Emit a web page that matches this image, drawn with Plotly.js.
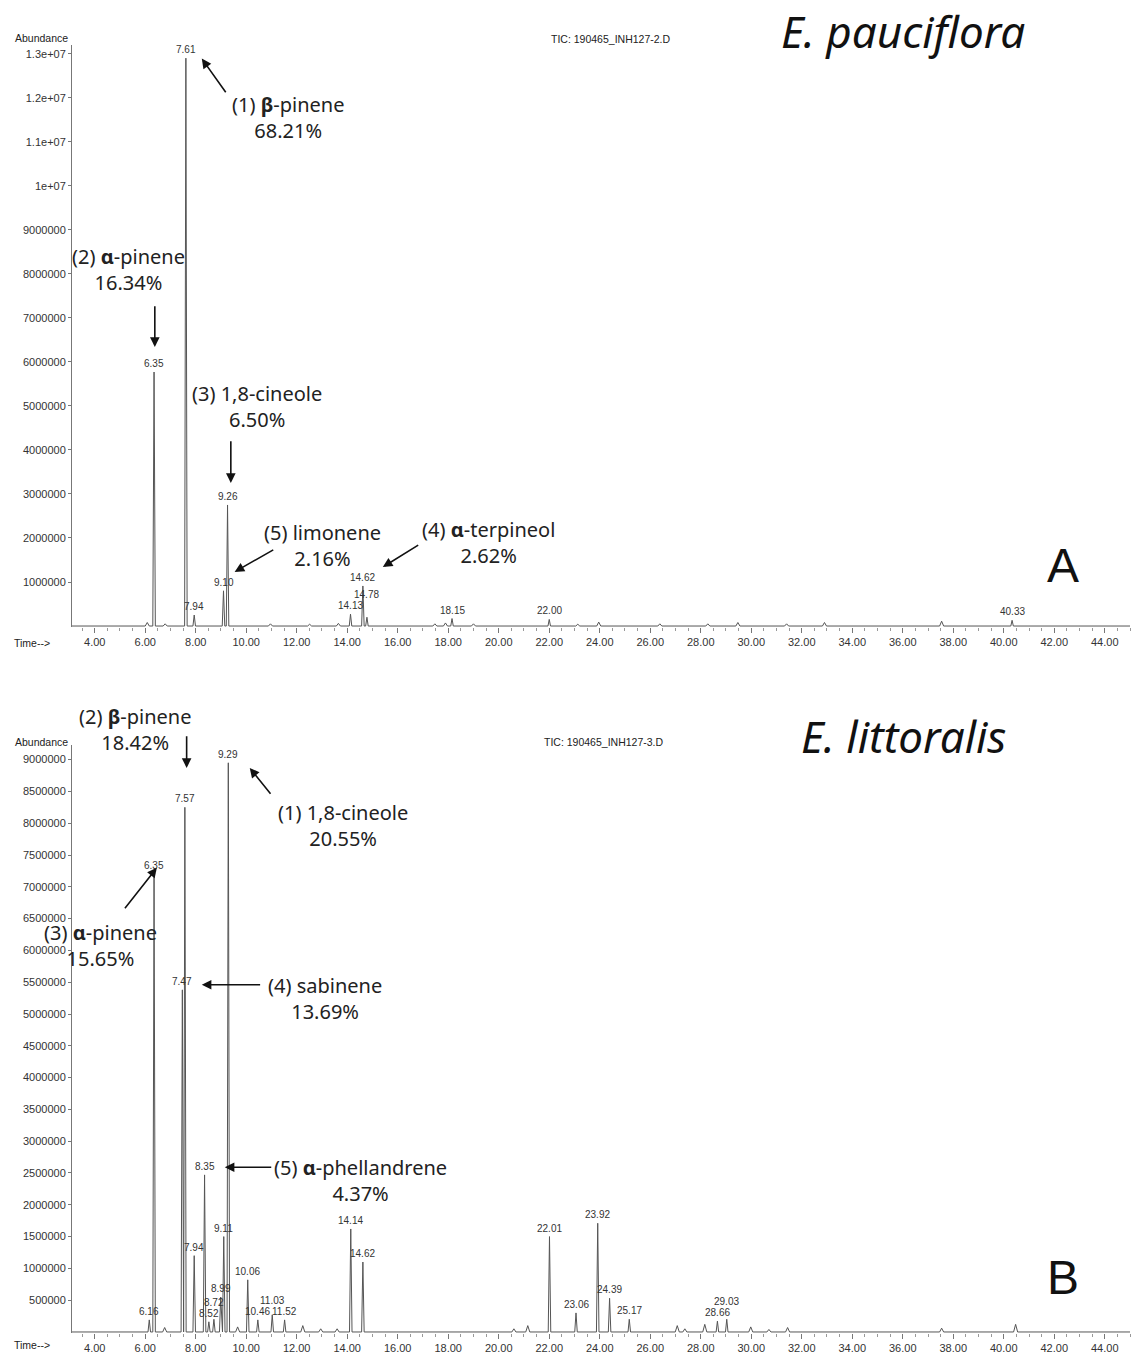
<!DOCTYPE html>
<html><head><meta charset="utf-8">
<script src="https://cdn.plot.ly/plotly-3.0.1.min.js"></script>
<style>html,body{margin:0;padding:0;background:#fff}</style>
</head><body><div id="chart" style="width:1136px;height:1354px"></div>
<script>
// ---- Chromatogram A: E. pauciflora ----
const peakTimesA = [6.35, 7.61, 7.94, 9.10, 9.26, 14.13, 14.62, 14.78, 18.15, 22.00, 40.33];
const peakHeightsA = [5.77e6, 1.29e7, 0.25e6, 0.8e6, 2.75e6, 0.27e6, 0.91e6, 0.2e6, 0.17e6, 0.15e6, 0.13e6];
const minorTimesA = [6.08, 6.79, 10.96, 12.51, 13.65, 17.47, 17.89, 19.0, 23.13, 23.96, 26.38, 28.28, 29.47, 31.4, 32.9, 37.54];
const minorHeightsA = [0.08e6, 0.05e6, 0.05e6, 0.04e6, 0.06e6, 0.05e6, 0.07e6, 0.05e6, 0.04e6, 0.09e6, 0.05e6, 0.05e6, 0.08e6, 0.05e6, 0.08e6, 0.11e6];

// ---- Chromatogram B: E. littoralis ----
const peakTimesB = [6.16, 6.35, 7.47, 7.57, 7.94, 8.35, 8.52, 8.72, 8.99, 9.11, 9.29, 10.06, 10.46, 11.03, 11.52, 14.14, 14.62, 22.01, 23.06, 23.92, 24.39, 25.17, 28.66, 29.03];
const peakHeightsB = [0.19e6, 7.2e6, 5.38e6, 8.25e6, 1.2e6, 2.47e6, 0.16e6, 0.2e6, 0.55e6, 1.5e6, 8.95e6, 0.82e6, 0.19e6, 0.27e6, 0.19e6, 1.62e6, 1.1e6, 1.5e6, 0.3e6, 1.71e6, 0.53e6, 0.2e6, 0.17e6, 0.2e6];
const minorTimesB = [6.77, 9.66, 12.24, 12.95, 13.6, 20.6, 21.15, 27.07, 27.37, 28.16, 29.98, 30.7, 31.44, 37.54, 40.47];
const minorHeightsB = [0.07e6, 0.08e6, 0.1e6, 0.05e6, 0.05e6, 0.05e6, 0.1e6, 0.1e6, 0.05e6, 0.12e6, 0.08e6, 0.04e6, 0.07e6, 0.06e6, 0.12e6];

// ---- Axis ticks ----
const xTickVals = [4, 6, 8, 10, 12, 14, 16, 18, 20, 22, 24, 26, 28, 30, 32, 34, 36, 38, 40, 42, 44];
const xTickText = ['4.00','6.00','8.00','10.00','12.00','14.00','16.00','18.00','20.00','22.00','24.00','26.00','28.00','30.00','32.00','34.00','36.00','38.00','40.00','42.00','44.00'];
const yTickValsA = [1e6, 2e6, 3e6, 4e6, 5e6, 6e6, 7e6, 8e6, 9e6, 1e7, 1.1e7, 1.2e7, 1.3e7];
const yTickTextA = ['1000000','2000000','3000000','4000000','5000000','6000000','7000000','8000000','9000000','1e+07','1.1e+07','1.2e+07','1.3e+07'];
const yTickValsB = [5e5, 1e6, 1.5e6, 2e6, 2.5e6, 3e6, 3.5e6, 4e6, 4.5e6, 5e6, 5.5e6, 6e6, 6.5e6, 7e6, 7.5e6, 8e6, 8.5e6, 9e6];
const yTickTextB = ['500000','1000000','1500000','2000000','2500000','3000000','3500000','4000000','4500000','5000000','5500000','6000000','6500000','7000000','7500000','8000000','8500000','9000000'];

// ---- Compound annotations ----
const compoundsA = ['(1) <b>β</b>-pinene<br>68.21%', '(2) <b>α</b>-pinene<br>16.34%', '(3) 1,8-cineole<br>6.50%', '(5) limonene<br>2.16%', '(4) <b>α</b>-terpineol<br>2.62%'];
const compoundsB = ['(2) <b>β</b>-pinene<br>18.42%', '(1) 1,8-cineole<br>20.55%', '(3) <b>α</b>-pinene<br>15.65%', '(4) sabinene<br>13.69%', '(5) <b>α</b>-phellandrene<br>4.37%'];

const X0 = 3.1, X1 = 45;
const W = 1058, H = 1354, L = 72;
const domA = [0.5369, 0.9668], rangeA = [-0.023e6, 13.2e6];
const domB = [0.01551, 0.44978], rangeB = [-0.016e6, 9.23e6];

function chromatogram(times, heights, minorT, minorH) {
  const pts = times.map((t, i) => [t, heights[i], 0.05])
    .concat(minorT.map((t, i) => [t, minorH[i], 0.08]))
    .sort((a, b) => a[0] - b[0]);
  const xs = [X0], ys = [0];
  pts.forEach(([t, h, w]) => { xs.push(t - w, t, t + w); ys.push(0, h, 0); });
  xs.push(X1); ys.push(0);
  return {xs, ys};
}
const cA = chromatogram(peakTimesA, peakHeightsA, minorTimesA, minorHeightsA);
const cB = chromatogram(peakTimesB, peakHeightsB, minorTimesB, minorHeightsB);

const lineStyle = {color: '#555', width: 1};
const traces = [
  {x: cA.xs, y: cA.ys, type: 'scatter', mode: 'lines', line: lineStyle, xaxis: 'x', yaxis: 'y', hoverinfo: 'skip'},
  {x: cB.xs, y: cB.ys, type: 'scatter', mode: 'lines', line: lineStyle, xaxis: 'x2', yaxis: 'y2', hoverinfo: 'skip'}
];

const sans = 'Liberation Sans, Arial, sans-serif';
const tickFont = {family: sans, size: 11, color: '#333'};
const labFont = {family: 'Noto Sans, DejaVu Sans, sans-serif', size: 20, color: '#222'};
const px = v => (v - L) / W;
const py = v => 1 - v / H;

const ann = [];
function note(x, y, text, font) {
  ann.push({x: px(x), y: py(y), xref: 'paper', yref: 'paper', xanchor: 'center', yanchor: 'middle', align: 'center', text: text, showarrow: false, font: font});
}

// retention-time labels above peaks, stacked upward when they would collide
const rtFont = {family: sans, size: 10, color: '#333'};
function rtLabels(times, heights, dom, range, xr, yr) {
  const yTop = H * (1 - dom[1]), yBot = H * (1 - dom[0]);
  const toPx = t => L + (t - X0) / (X1 - X0) * W;
  const toPy = v => yBot - (v - range[0]) / (range[1] - range[0]) * (yBot - yTop);
  const placed = [];
  times.forEach((t, i) => {
    const cx = toPx(t), half = t.toFixed(2).length * 2.4;
    let bottom = toPy(heights[i]) - 1, top = bottom - 10;
    let moved = true;
    while (moved) {
      moved = false;
      for (const b of placed) {
        if (Math.abs(b.cx - cx) < b.half + half && top < b.bottom && bottom > b.top) {
          bottom = b.top - 1; top = bottom - 10; moved = true;
        }
      }
    }
    placed.push({cx, half, top, bottom});
    const shift = toPy(heights[i]) - 1 - bottom;
    ann.push({x: t, y: heights[i], xref: xr, yref: yr, xanchor: 'center', yanchor: 'bottom', yshift: 1 + shift,
      text: t.toFixed(2), showarrow: false, font: rtFont});
  });
}
rtLabels(peakTimesA, peakHeightsA, domA, rangeA, 'x', 'y');
rtLabels(peakTimesB, peakHeightsB, domB, rangeB, 'x2', 'y2');

// compound name labels (layout positions in page pixels)
const posA = [[288, 118], [128, 269], [257, 406], [322, 545], [488, 542]];
const posB = [[135, 729], [343, 825], [100, 945], [325, 998], [360, 1180]];
compoundsA.forEach((s, i) => note(posA[i][0], posA[i][1], s, labFont));
compoundsB.forEach((s, i) => note(posB[i][0], posB[i][1], s, labFont));

// arrows (tail -> head) in data coordinates
function arrow(xr, yr, tx, ty, hx, hy) {
  ann.push({x: hx, y: hy, ax: tx, ay: ty, xref: xr, yref: yr, axref: xr, ayref: yr, text: '', showarrow: true, arrowhead: 2, arrowsize: 1.2, arrowwidth: 1.6, arrowcolor: '#111'});
}
arrow('x', 'y', 9.23, 12.09e6, 8.24, 12.89e6);
arrow('x', 'y', 6.38, 7.3e6, 6.38, 6.34e6);
arrow('x', 'y', 9.39, 4.23e6, 9.39, 3.25e6);
arrow('x', 'y', 11.13, 1.75e6, 9.54, 1.23e6);
arrow('x', 'y', 16.87, 1.86e6, 15.41, 1.34e6);
arrow('x2', 'y2', 7.64, 9.39e6, 7.64, 8.87e6);
arrow('x2', 'y2', 11.01, 8.44e6, 10.14, 8.87e6);
arrow('x2', 'y2', 5.15, 6.64e6, 6.46, 7.30e6);
arrow('x2', 'y2', 10.61, 5.46e6, 8.24, 5.46e6);
arrow('x2', 'y2', 11.05, 2.59e6, 9.15, 2.59e6);

// fixed texts
const small = {family: sans, size: 10.5, color: '#222'};
note(41, 38, 'Abundance', small);
note(41, 742, 'Abundance', small);
note(32, 643, 'Time-->', small);
note(32, 1345, 'Time-->', small);
note(610, 39, 'TIC: 190465_INH127-2.D', small);
note(603, 742, 'TIC: 190465_INH127-3.D', small);
const titleFont = {family: 'Noto Sans, DejaVu Sans, sans-serif', size: 44, color: '#111', style: 'italic'};
note(903, 31, 'E. pauciflora', titleFont);
note(903, 736, 'E. littoralis', titleFont);
const bigFont = {family: 'Liberation Sans, Arial, sans-serif', size: 48, color: '#111'};
note(1063, 566, 'A', bigFont);
note(1063, 1277, 'B', bigFont);

const xCommon = {range: [X0, X1], tickvals: xTickVals, ticktext: xTickText, ticks: 'outside', ticklen: 5, tickcolor: '#777',
  showgrid: false, zeroline: false, showline: false, tickfont: tickFont,
  minor: {dtick: 0.5, tick0: 0, ticks: 'outside', ticklen: 3, tickcolor: '#999', showgrid: false}};
const yCommon = {ticks: 'outside', ticklen: 3, tickcolor: '#777', showline: true, linecolor: '#777', linewidth: 1,
  showgrid: false, zeroline: false, tickfont: tickFont};

const layout = {
  width: 1136, height: 1354, margin: {l: L, r: 6, t: 0, b: 0}, showlegend: false,
  paper_bgcolor: '#fff', plot_bgcolor: '#fff',
  xaxis: Object.assign({anchor: 'y'}, xCommon),
  yaxis: Object.assign({anchor: 'x', domain: domA, range: rangeA, tickvals: yTickValsA, ticktext: yTickTextA}, yCommon),
  xaxis2: Object.assign({anchor: 'y2'}, xCommon),
  yaxis2: Object.assign({anchor: 'x2', domain: domB, range: rangeB, tickvals: yTickValsB, ticktext: yTickTextB}, yCommon),
  annotations: ann
};
Plotly.newPlot('chart', traces, layout, {staticPlot: true, displayModeBar: false});
</script>
</body></html>
